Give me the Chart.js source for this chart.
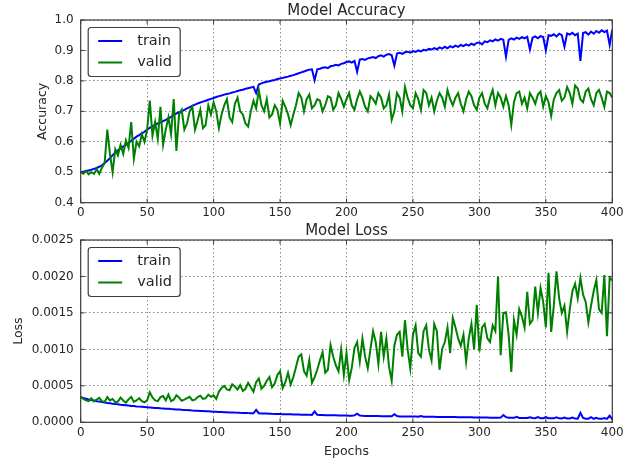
<!DOCTYPE html>
<html>
<head>
<meta charset="utf-8">
<script src="https://cdn.jsdelivr.net/npm/chart.js@4/dist/chart.umd.min.js"></script>
<style>
  html, body { margin: 0; padding: 0; background: #fff; }
  #wrap { position: relative; width: 639px; height: 464px; overflow: hidden; }
  canvas { position: absolute; left: 0; }
  #accCanvas { top: 0; }
  #lossCanvas { top: 218px; }
</style>
</head>
<body>
<div id="wrap">
  <canvas id="accCanvas" width="639" height="220" style="width:639px;height:220px"></canvas>
  <canvas id="lossCanvas" width="639" height="246" style="width:639px;height:246px"></canvas>
</div>
<script>
// Sample grid: every second epoch, 0..400
const epochs = Array.from({ length: 201 }, (_, i) => i * 2);

const seriesNames = ['train', 'valid'];

// Accuracy per epoch
const accTrain = [
  0.500,0.502,0.504,0.506,0.508,0.511,0.514,0.518,0.523,0.530,
  0.538,0.546,0.556,0.564,0.572,0.578,0.584,0.590,0.596,0.603,
  0.610,0.617,0.622,0.628,0.633,0.640,0.646,0.651,0.656,0.660,
  0.664,0.668,0.672,0.677,0.682,0.688,0.693,0.697,0.700,0.705,
  0.710,0.714,0.718,0.722,0.726,0.729,0.732,0.735,0.738,0.741,
  0.744,0.747,0.750,0.752,0.755,0.757,0.759,0.762,0.764,0.767,
  0.769,0.771,0.774,0.776,0.778,0.781,0.760,0.788,0.792,0.795,
  0.797,0.799,0.801,0.803,0.806,0.808,0.810,0.812,0.814,0.817,
  0.819,0.822,0.825,0.828,0.831,0.834,0.837,0.838,0.802,0.838,
  0.840,0.843,0.845,0.842,0.848,0.850,0.853,0.851,0.856,0.858,
  0.862,0.864,0.860,0.866,0.830,0.870,0.872,0.869,0.874,0.876,
  0.878,0.875,0.881,0.884,0.880,0.886,0.888,0.884,0.850,0.890,
  0.892,0.889,0.894,0.896,0.893,0.898,0.895,0.900,0.897,0.902,
  0.900,0.905,0.903,0.908,0.904,0.910,0.906,0.912,0.907,0.914,
  0.910,0.916,0.912,0.918,0.914,0.920,0.916,0.922,0.918,0.925,
  0.926,0.920,0.930,0.927,0.933,0.930,0.936,0.932,0.938,0.935,
  0.880,0.935,0.940,0.936,0.942,0.938,0.944,0.940,0.945,0.903,
  0.942,0.946,0.940,0.947,0.944,0.900,0.950,0.948,0.953,0.946,
  0.955,0.950,0.912,0.956,0.952,0.958,0.950,0.955,0.866,0.957,
  0.960,0.952,0.962,0.955,0.964,0.958,0.966,0.960,0.965,0.918,
  0.968
];
const accValid = [
  0.500,0.495,0.505,0.493,0.500,0.495,0.510,0.495,0.515,0.530,
  0.640,0.560,0.500,0.575,0.555,0.590,0.560,0.605,0.580,0.665,
  0.545,0.600,0.585,0.625,0.600,0.640,0.735,0.620,0.665,0.610,
  0.715,0.590,0.640,0.680,0.625,0.740,0.570,0.690,0.705,0.640,
  0.660,0.700,0.715,0.640,0.670,0.705,0.645,0.655,0.720,0.690,
  0.730,0.700,0.645,0.690,0.720,0.740,0.680,0.665,0.725,0.745,
  0.700,0.690,0.660,0.650,0.700,0.735,0.710,0.770,0.720,0.700,
  0.740,0.680,0.690,0.720,0.705,0.660,0.735,0.715,0.690,0.655,
  0.690,0.720,0.760,0.745,0.700,0.740,0.755,0.710,0.720,0.740,
  0.735,0.700,0.720,0.750,0.745,0.705,0.720,0.760,0.740,0.715,
  0.740,0.760,0.720,0.705,0.740,0.765,0.745,0.715,0.700,0.750,
  0.740,0.725,0.760,0.745,0.710,0.720,0.755,0.672,0.700,0.760,
  0.745,0.700,0.780,0.745,0.720,0.710,0.760,0.740,0.705,0.770,
  0.760,0.720,0.745,0.700,0.735,0.760,0.745,0.715,0.770,0.740,
  0.720,0.745,0.760,0.725,0.700,0.740,0.765,0.750,0.720,0.705,
  0.745,0.760,0.725,0.710,0.745,0.770,0.720,0.760,0.745,0.715,
  0.750,0.720,0.655,0.730,0.760,0.765,0.725,0.745,0.710,0.760,
  0.745,0.725,0.755,0.765,0.715,0.750,0.730,0.685,0.740,0.760,
  0.770,0.735,0.745,0.780,0.760,0.725,0.785,0.775,0.740,0.730,
  0.765,0.775,0.740,0.720,0.760,0.770,0.745,0.715,0.765,0.760,
  0.745
];

// Loss per epoch
const lossTrain = [
  0.000340,0.000332,0.000322,0.000312,0.000305,0.000298,0.000290,0.000284,0.000279,0.000272,
  0.000266,0.000261,0.000255,0.000250,0.000246,0.000241,0.000237,0.000233,0.000229,0.000225,
  0.000222,0.000218,0.000215,0.000212,0.000209,0.000206,0.000203,0.000200,0.000197,0.000195,
  0.000192,0.000190,0.000187,0.000185,0.000182,0.000180,0.000177,0.000175,0.000172,0.000170,
  0.000167,0.000165,0.000162,0.000160,0.000158,0.000156,0.000154,0.000152,0.000150,0.000148,
  0.000146,0.000144,0.000142,0.000141,0.000139,0.000138,0.000136,0.000135,0.000133,0.000132,
  0.000130,0.000129,0.000128,0.000126,0.000125,0.000124,0.000170,0.000125,0.000121,0.000120,
  0.000119,0.000118,0.000116,0.000115,0.000114,0.000113,0.000112,0.000111,0.000110,0.000109,
  0.000108,0.000107,0.000106,0.000105,0.000104,0.000103,0.000102,0.000101,0.000150,0.000102,
  0.000100,0.000099,0.000098,0.000097,0.000096,0.000096,0.000095,0.000094,0.000093,0.000093,
  0.000092,0.000091,0.000090,0.000095,0.000118,0.000092,0.000089,0.000088,0.000088,0.000087,
  0.000086,0.000086,0.000085,0.000084,0.000084,0.000083,0.000083,0.000082,0.000110,0.000085,
  0.000081,0.000080,0.000080,0.000079,0.000079,0.000078,0.000078,0.000077,0.000085,0.000077,
  0.000076,0.000076,0.000075,0.000075,0.000074,0.000074,0.000073,0.000073,0.000072,0.000072,
  0.000071,0.000071,0.000070,0.000070,0.000069,0.000069,0.000068,0.000068,0.000067,0.000067,
  0.000066,0.000066,0.000065,0.000065,0.000064,0.000064,0.000063,0.000063,0.000064,0.000100,
  0.000070,0.000062,0.000061,0.000061,0.000075,0.000060,0.000059,0.000059,0.000058,0.000070,
  0.000058,0.000057,0.000072,0.000056,0.000056,0.000070,0.000055,0.000055,0.000054,0.000068,
  0.000054,0.000053,0.000066,0.000052,0.000052,0.000065,0.000051,0.000050,0.000130,0.000060,
  0.000050,0.000049,0.000070,0.000048,0.000060,0.000047,0.000047,0.000058,0.000046,0.000090,
  0.000040
];
const lossValid = [
  0.000355,0.000320,0.000300,0.000290,0.000330,0.000285,0.000310,0.000335,0.000290,0.000280,
  0.000345,0.000300,0.000320,0.000275,0.000285,0.000340,0.000300,0.000270,0.000315,0.000350,
  0.000280,0.000300,0.000330,0.000290,0.000275,0.000300,0.000410,0.000340,0.000300,0.000290,
  0.000345,0.000360,0.000300,0.000380,0.000290,0.000310,0.000370,0.000340,0.000295,0.000310,
  0.000330,0.000350,0.000300,0.000310,0.000345,0.000365,0.000320,0.000330,0.000380,0.000350,
  0.000370,0.000320,0.000420,0.000470,0.000500,0.000450,0.000440,0.000520,0.000490,0.000450,
  0.000510,0.000430,0.000460,0.000540,0.000480,0.000420,0.000550,0.000600,0.000460,0.000500,
  0.000570,0.000620,0.000480,0.000530,0.000650,0.000700,0.000470,0.000550,0.000680,0.000520,
  0.000620,0.000760,0.000900,0.000930,0.000700,0.000640,0.000850,0.000540,0.000620,0.000720,
  0.000850,0.000960,0.000680,0.000720,0.001060,0.000900,0.000780,0.000700,0.001000,0.000650,
  0.000950,0.000580,0.000750,0.001020,0.001100,0.000830,0.001150,0.000900,0.000740,0.001000,
  0.001250,0.001100,0.000800,0.001240,0.000900,0.001150,0.000760,0.000570,0.001050,0.001200,
  0.001240,0.000900,0.001400,0.001000,0.000740,0.001200,0.001330,0.000950,0.000900,0.001250,
  0.001330,0.001000,0.000850,0.001350,0.001250,0.000720,0.001010,0.001100,0.001300,0.000950,
  0.001430,0.001300,0.001150,0.001050,0.001200,0.000830,0.001150,0.001350,0.001000,0.001610,
  0.000970,0.001300,0.001350,0.001150,0.001100,0.001330,0.001250,0.002000,0.000920,0.001500,
  0.001510,0.001200,0.000690,0.001400,0.001200,0.001550,0.001450,0.001300,0.001790,0.001350,
  0.001400,0.001860,0.001500,0.001840,0.001650,0.001300,0.002050,0.001240,0.001600,0.002070,
  0.001700,0.001500,0.001600,0.001240,0.001550,0.001800,0.001900,0.001700,0.001980,0.001750,
  0.001650,0.001370,0.001600,0.001800,0.001950,0.001550,0.001500,0.002020,0.001180,0.001980,
  0.001950
];

// Tick values
const epochTicks = [0, 50, 100, 150, 200, 250, 300, 350, 400];
const accTicks = [0.4, 0.5, 0.6, 0.7, 0.8, 0.9, 1.0];
const lossTicks = [0.0, 0.0005, 0.0010, 0.0015, 0.0020, 0.0025];

const TEXT = '#262626';
const FRAME = '#3c3c3c';
const FONT = '"DejaVu Sans", "Liberation Sans", sans-serif';
const TRAIN_COLOR = '#0000ff';
const VALID_COLOR = '#008000';

// Axes box with inward tick marks on all four sides
const axesFrame = {
  id: 'axesFrame',
  afterDatasetsDraw(chart) {
    const { ctx, chartArea: a, scales: { x, y } } = chart;
    ctx.save();
    ctx.strokeStyle = FRAME;
    ctx.lineWidth = 1;
    ctx.beginPath();
    x.ticks.forEach(t => {
      const px = x.getPixelForValue(t.value);
      ctx.moveTo(px, a.bottom); ctx.lineTo(px, a.bottom - 4);
      ctx.moveTo(px, a.top); ctx.lineTo(px, a.top + 4);
    });
    y.ticks.forEach(t => {
      const py = y.getPixelForValue(t.value);
      ctx.moveTo(a.left, py); ctx.lineTo(a.left + 4, py);
      ctx.moveTo(a.right, py); ctx.lineTo(a.right - 4, py);
    });
    ctx.stroke();
    ctx.lineWidth = 1.2;
    ctx.strokeRect(a.left, a.top, a.right - a.left, a.bottom - a.top);
    ctx.restore();
  }
};

// Plot title above the axes box
const axesTitle = {
  id: 'axesTitle',
  afterDraw(chart, args, opts) {
    const { ctx, chartArea: a } = chart;
    ctx.save();
    ctx.fillStyle = TEXT;
    ctx.font = '15px ' + FONT;
    ctx.textAlign = 'center';
    ctx.textBaseline = 'alphabetic';
    ctx.fillText(opts.text, (a.left + a.right) / 2, a.top - 5);
    ctx.restore();
  }
};

// Framed legend in the upper-left corner of the axes
const boxLegend = {
  id: 'boxLegend',
  afterDraw(chart) {
    const { ctx, chartArea: a } = chart;
    const bx = a.left + 7.5, by = a.top + 7.5, bw = 92, bh = 49, r = 3;
    ctx.save();
    ctx.beginPath();
    ctx.moveTo(bx + r, by);
    ctx.lineTo(bx + bw - r, by); ctx.arcTo(bx + bw, by, bx + bw, by + r, r);
    ctx.lineTo(bx + bw, by + bh - r); ctx.arcTo(bx + bw, by + bh, bx + bw - r, by + bh, r);
    ctx.lineTo(bx + r, by + bh); ctx.arcTo(bx, by + bh, bx, by + bh - r, r);
    ctx.lineTo(bx, by + r); ctx.arcTo(bx, by, bx + r, by, r);
    ctx.closePath();
    ctx.fillStyle = '#fff';
    ctx.fill();
    ctx.strokeStyle = FRAME;
    ctx.lineWidth = 1.2;
    ctx.stroke();
    ctx.font = '14.5px ' + FONT;
    ctx.textBaseline = 'middle';
    ctx.textAlign = 'left';
    chart.data.datasets.forEach((ds, i) => {
      const ly = by + 13.5 + i * 21.5;
      ctx.beginPath();
      ctx.strokeStyle = ds.borderColor;
      ctx.lineWidth = 2;
      ctx.moveTo(bx + 10, ly); ctx.lineTo(bx + 34, ly);
      ctx.stroke();
      ctx.fillStyle = TEXT;
      ctx.fillText(ds.label, bx + 49, ly);
    });
    ctx.restore();
  }
};

function pairs(ys) { return epochs.map((e, i) => ({ x: e, y: ys[i] })); }

function makeChart(canvasId, cfg) {
  const plotLeft = 80.7, plotRight = 612.3;
  const canvas = document.getElementById(canvasId);
  const H = canvas.height;
  return new Chart(canvas, {
    type: 'line',
    data: {
      datasets: [
        { label: seriesNames[0], data: pairs(cfg.train), borderColor: TRAIN_COLOR, borderWidth: 2, pointRadius: 0, tension: 0, order: 2 },
        { label: seriesNames[1], data: pairs(cfg.valid), borderColor: VALID_COLOR, borderWidth: 2, pointRadius: 0, tension: 0, order: 1 }
      ]
    },
    options: {
      responsive: false,
      devicePixelRatio: 1,
      animation: false,
      events: [],
      layout: { padding: { left: 0, right: 639 - plotRight, top: cfg.plotTop, bottom: 0 } },
      plugins: {
        legend: { display: false },
        tooltip: { enabled: false },
        title: { display: false },
        axesTitle: { text: cfg.title }
      },
      scales: {
        x: {
          type: 'linear',
          min: 0, max: 400,
          afterBuildTicks(scale) { scale.ticks = epochTicks.map(v => ({ value: v })); },
          afterFit(scale) { scale.height = H - cfg.plotBottom; },
          ticks: {
            color: TEXT, padding: 3, maxRotation: 0, autoSkip: false,
            font: { family: FONT, size: 12 },
            callback: v => String(v)
          },
          grid: { color: '#8a8a8a', lineWidth: 1, drawTicks: false },
          border: { display: false, dash: [1.5, 2.5] },
          title: cfg.xTitle ? {
            display: true, text: cfg.xTitle, color: TEXT,
            font: { family: FONT, size: 12.5 },
            padding: { top: 0, bottom: cfg.xTitlePad }
          } : { display: false }
        },
        y: {
          type: 'linear',
          min: cfg.yTicks[0], max: cfg.yTicks[cfg.yTicks.length - 1],
          afterBuildTicks(scale) { scale.ticks = cfg.yTicks.map(v => ({ value: v })); },
          afterFit(scale) { scale.width = plotLeft; },
          ticks: {
            color: TEXT, padding: 7, autoSkip: false,
            font: { family: FONT, size: 12 },
            callback: v => Number(v).toFixed(cfg.digits)
          },
          grid: { color: '#8a8a8a', lineWidth: 1, drawTicks: false },
          border: { display: false, dash: [1.5, 2.5] },
          title: {
            display: true, text: cfg.yTitle, color: TEXT,
            font: { family: FONT, size: 12.5 },
            padding: { top: cfg.yTitleX - 7.5, bottom: 0 }
          }
        }
      }
    },
    plugins: [axesFrame, axesTitle, boxLegend]
  });
}

makeChart('accCanvas', {
  title: 'Model Accuracy', yTitle: 'Accuracy', xTitle: null,
  train: accTrain, valid: accValid, yTicks: accTicks, digits: 1,
  plotTop: 20, plotBottom: 202.7, yTitleX: 42.7
});

makeChart('lossCanvas', {
  title: 'Model Loss', yTitle: 'Loss', xTitle: 'Epochs', xTitlePad: 4.5,
  train: lossTrain, valid: lossValid, yTicks: lossTicks, digits: 4,
  plotTop: 22, plotBottom: 204.3, yTitleX: 18.7
});
</script>
</body>
</html>
